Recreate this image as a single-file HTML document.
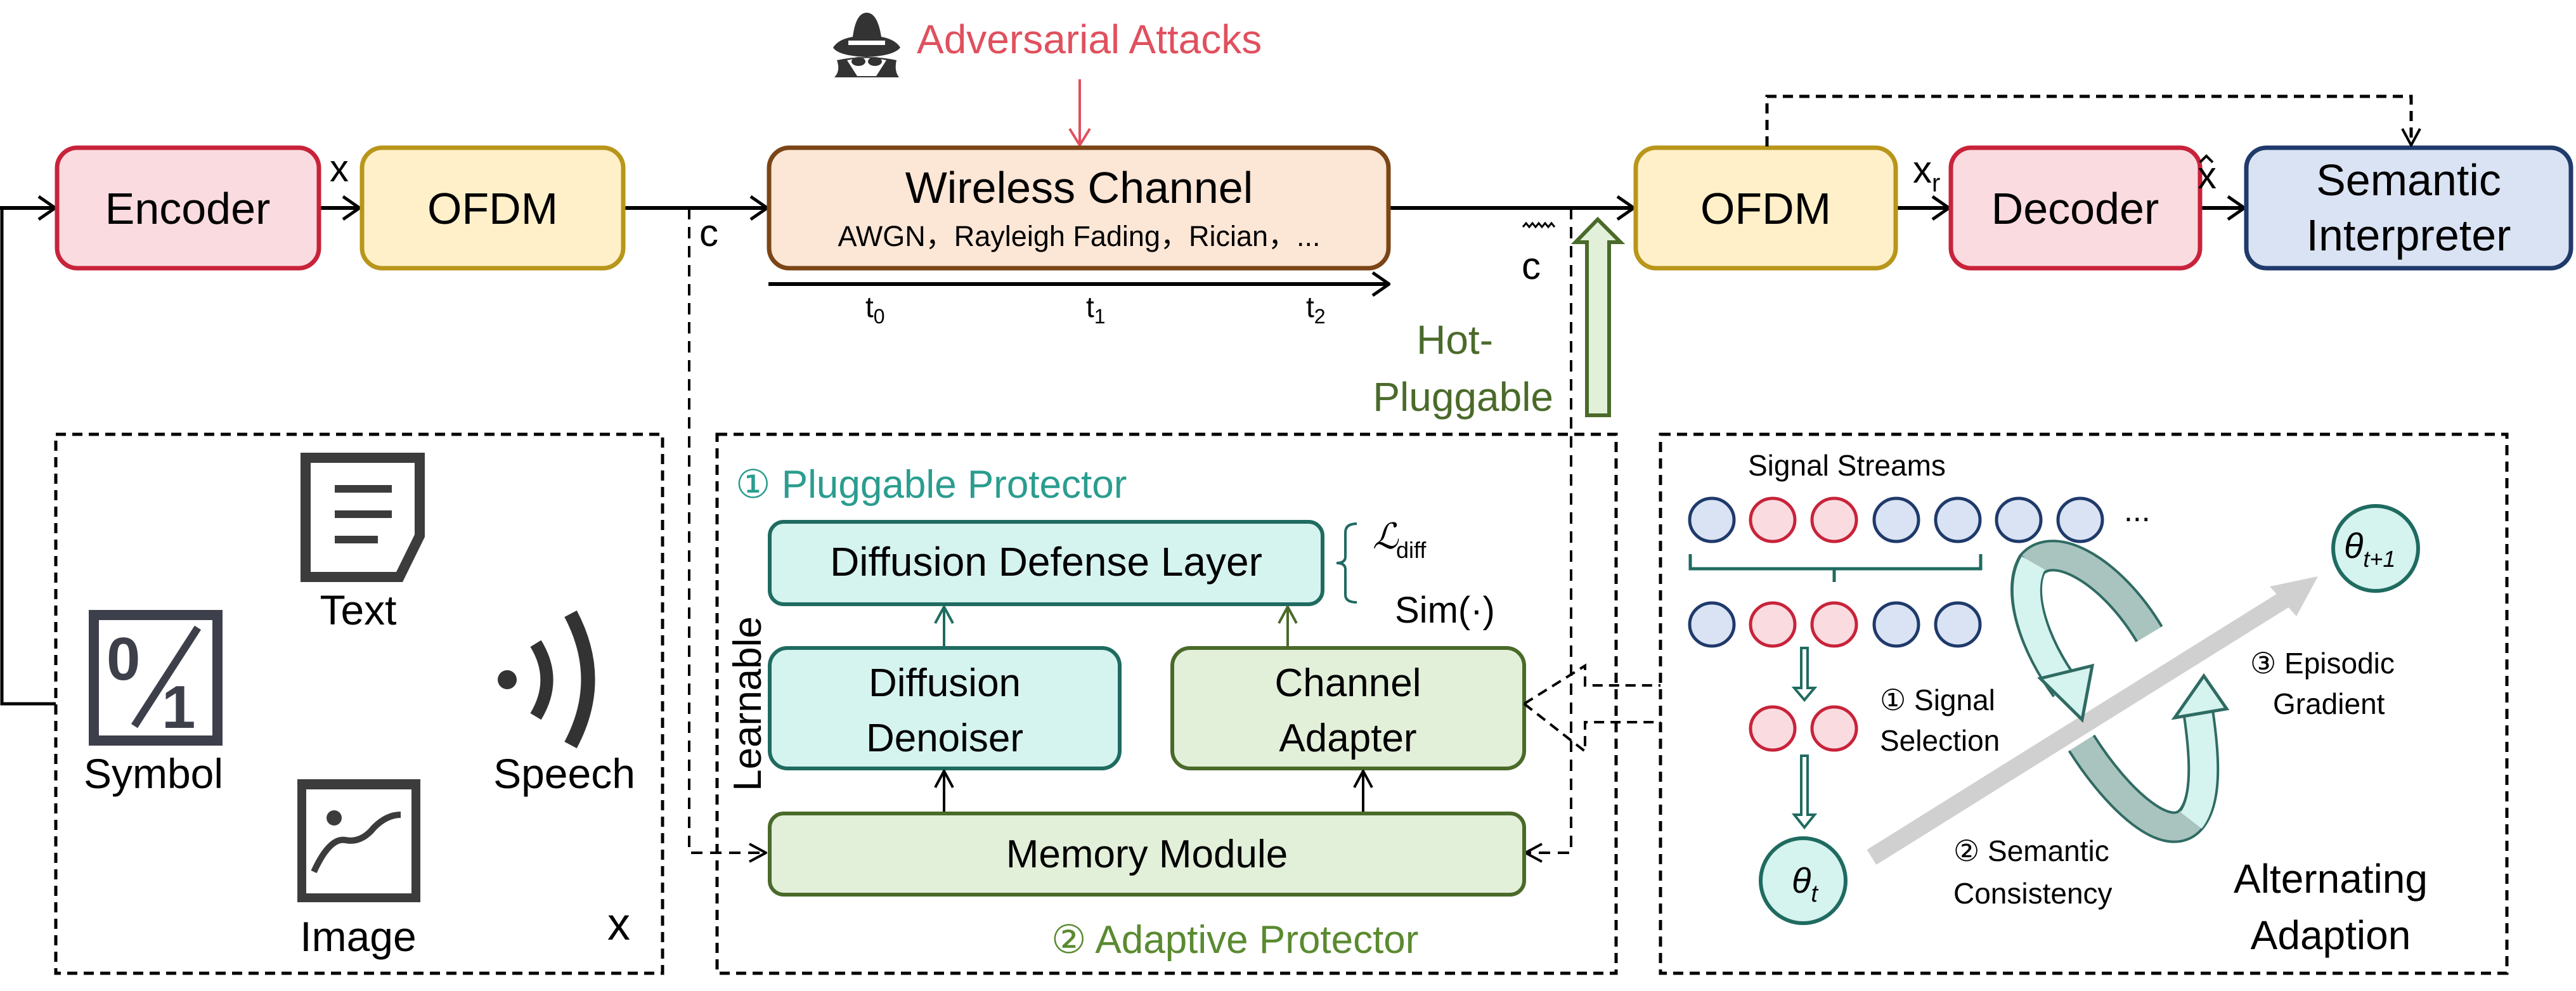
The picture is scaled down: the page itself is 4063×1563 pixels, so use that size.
<!DOCTYPE html>
<html><head><meta charset="utf-8"><style>
html,body{margin:0;padding:0;background:#fff;}
svg{display:block;font-family:"Liberation Sans",Arial,sans-serif;}
</style></head><body>
<svg width="4063" height="1563" viewBox="0 0 4063 1563" xmlns="http://www.w3.org/2000/svg">
<defs>
<marker id="obig" viewBox="0 0 30 40" refX="28" refY="20" markerWidth="30" markerHeight="40" markerUnits="userSpaceOnUse" orient="auto"><path d="M2 2 L28 20 L2 38" fill="none" stroke="#000" stroke-width="5"/></marker>
<marker id="or" viewBox="0 0 30 40" refX="28" refY="20" markerWidth="30" markerHeight="40" markerUnits="userSpaceOnUse" orient="auto"><path d="M2 4 L28 20 L2 36" fill="none" stroke="#e0505e" stroke-width="4"/></marker>
<marker id="ot" viewBox="0 0 30 40" refX="28" refY="20" markerWidth="30" markerHeight="40" markerUnits="userSpaceOnUse" orient="auto"><path d="M2 6 L28 20 L2 34" fill="none" stroke="#1f6b60" stroke-width="4"/></marker>
<marker id="og" viewBox="0 0 30 40" refX="28" refY="20" markerWidth="30" markerHeight="40" markerUnits="userSpaceOnUse" orient="auto"><path d="M2 6 L28 20 L2 34" fill="none" stroke="#4a6a2a" stroke-width="4"/></marker>
<marker id="ok" viewBox="0 0 30 40" refX="28" refY="20" markerWidth="30" markerHeight="40" markerUnits="userSpaceOnUse" orient="auto"><path d="M2 6 L28 20 L2 34" fill="none" stroke="#000" stroke-width="4"/></marker>
</defs>

<g fill="#333">
<path d="M1345 58 Q1350 20 1367 20 Q1384 20 1390 58 Q1412 62 1420 75 Q1410 88 1367 90 Q1322 88 1314 75 Q1322 62 1345 58Z"/>
<path d="M1320 95 Q1367 85 1414 95 Q1410 112 1418 122 L1316 122 Q1326 112 1320 95Z"/>
</g>
<rect x="1338" y="64" width="58" height="7" fill="#fff"/>
<path d="M1336 95 Q1367 88 1398 95 L1382 120 L1352 120Z" fill="#fff"/>
<ellipse cx="1354" cy="97" rx="11" ry="7" fill="#333"/><ellipse cx="1380" cy="97" rx="11" ry="7" fill="#333"/>
<text x="1446" y="84" font-size="64" fill="#e0505e">Adversarial Attacks</text>
<line x1="1703" y1="125" x2="1703" y2="229" stroke="#e0505e" stroke-width="4" marker-end="url(#or)"/>

<line x1="0" y1="328" x2="87" y2="328" stroke="#000" stroke-width="6" marker-end="url(#obig)"/>
<line x1="505" y1="328" x2="567" y2="328" stroke="#000" stroke-width="6" marker-end="url(#obig)"/>
<line x1="984" y1="328" x2="1210" y2="328" stroke="#000" stroke-width="6" marker-end="url(#obig)"/>
<line x1="2191" y1="328" x2="2577" y2="328" stroke="#000" stroke-width="6" marker-end="url(#obig)"/>
<line x1="2992" y1="328" x2="3074" y2="328" stroke="#000" stroke-width="6" marker-end="url(#obig)"/>
<line x1="3471" y1="328" x2="3540" y2="328" stroke="#000" stroke-width="6" marker-end="url(#obig)"/>
<polyline points="3,328 3,1110 88,1110" fill="none" stroke="#000" stroke-width="5"/>

<rect x="90" y="233" width="413" height="190" rx="32" fill="#f9dbe0" stroke="#c8233a" stroke-width="7"/>
<text x="296" y="353" font-size="70" text-anchor="middle">Encoder</text>
<rect x="571" y="233" width="412" height="190" rx="32" fill="#fff0c9" stroke="#b8961a" stroke-width="7"/>
<text x="777" y="353" font-size="70" text-anchor="middle">OFDM</text>
<rect x="1213" y="233" width="977" height="190" rx="32" fill="#fce6d6" stroke="#7b4516" stroke-width="7"/>
<text x="1702" y="320" font-size="70" text-anchor="middle">Wireless Channel</text>
<text x="1702" y="388" font-size="45" text-anchor="middle">AWGN，Rayleigh Fading，Rician，...</text>
<rect x="2580" y="233" width="410" height="190" rx="32" fill="#fff0c9" stroke="#b8961a" stroke-width="7"/>
<text x="2785" y="353" font-size="70" text-anchor="middle">OFDM</text>
<rect x="3077" y="233" width="393" height="190" rx="32" fill="#f9dbe0" stroke="#c8233a" stroke-width="7"/>
<text x="3273" y="353" font-size="70" text-anchor="middle">Decoder</text>
<rect x="3543" y="233" width="512" height="190" rx="32" fill="#dae3f3" stroke="#1f3a6b" stroke-width="7"/>
<text x="3799" y="308" font-size="70" text-anchor="middle">Semantic</text>
<text x="3799" y="395" font-size="70" text-anchor="middle">Interpreter</text>

<text x="520" y="286" font-size="60">x</text>
<text x="3017" y="288" font-size="60">x<tspan font-size="40" dy="14">r</tspan></text>
<text x="3466" y="297" font-size="60">x</text>
<path d="M3470 256 L3480 246 L3490 256" fill="none" stroke="#000" stroke-width="4"/>

<line x1="1212" y1="448" x2="2191" y2="448" stroke="#000" stroke-width="6" marker-end="url(#obig)"/>
<text x="1365" y="500" font-size="46">t<tspan font-size="32" dy="10">0</tspan></text>
<text x="1713" y="500" font-size="46">t<tspan font-size="32" dy="10">1</tspan></text>
<text x="2060" y="500" font-size="46">t<tspan font-size="32" dy="10">2</tspan></text>

<polyline points="1087,328 1087,1345 1208,1345" fill="none" stroke="#000" stroke-width="4" stroke-dasharray="18,12" marker-end="url(#ok)"/>
<text x="1103" y="388" font-size="60">c</text>
<polyline points="2478,328 2478,1345 2406,1345" fill="none" stroke="#000" stroke-width="4" stroke-dasharray="18,12" marker-end="url(#ok)"/>
<text x="2400" y="440" font-size="60">c</text>
<path d="M2402 358 l5 -6 l5 6 l5 -6 l5 6 l5 -6 l5 6 l5 -6 l5 6 l5 -6 l5 6" fill="none" stroke="#000" stroke-width="3"/>
<polyline points="2787,231 2787,152 3803,152 3803,229" fill="none" stroke="#000" stroke-width="5" stroke-dasharray="16,10" marker-end="url(#ok)"/>

<path d="M2503 655 L2503 382 L2485 382 L2520 346 L2556 382 L2538 382 L2538 655Z" fill="#e2f0d9" stroke="#4a6a2a" stroke-width="6"/>
<text x="2355" y="558" font-size="64" fill="#4a6a2a" text-anchor="end">Hot-</text>
<text x="2450" y="648" font-size="64" fill="#4a6a2a" text-anchor="end">Pluggable</text>

<rect x="88" y="685" width="957" height="850" fill="none" stroke="#000" stroke-width="5" stroke-dasharray="16,10"/>
<rect x="1131" y="685" width="1418" height="850" fill="none" stroke="#000" stroke-width="5" stroke-dasharray="16,10"/>
<rect x="2619" y="685" width="1335" height="850" fill="none" stroke="#000" stroke-width="5" stroke-dasharray="16,10"/>

<path d="M482 722 L662 722 L662 845 L630 910 L482 910Z" fill="none" stroke="#3c3c3c" stroke-width="16"/>
<rect x="482" y="716" width="180" height="14" fill="#3c3c3c"/>
<rect x="528" y="765" width="90" height="12" fill="#3c3c3c"/>
<rect x="528" y="805" width="90" height="12" fill="#3c3c3c"/>
<rect x="528" y="845" width="68" height="12" fill="#3c3c3c"/>
<text x="565" y="985" font-size="66" text-anchor="middle">Text</text>

<rect x="148" y="970" width="195" height="198" fill="none" stroke="#3d3f4b" stroke-width="16"/>
<rect x="142" y="964" width="207" height="14" fill="#3d3f4b"/>
<text x="168" y="1072" font-size="96" fill="#3d3f4b" font-weight="bold">0</text>
<text x="255" y="1148" font-size="96" fill="#3d3f4b" font-weight="bold">1</text>
<line x1="312" y1="990" x2="212" y2="1145" stroke="#3d3f4b" stroke-width="12"/>
<text x="242" y="1243" font-size="66" text-anchor="middle">Symbol</text>

<circle cx="800" cy="1072" r="15" fill="#333"/>
<path d="M845 1015 Q880 1072 845 1130" fill="none" stroke="#333" stroke-width="20"/>
<path d="M900 968 Q955 1072 900 1175" fill="none" stroke="#333" stroke-width="22"/>
<text x="890" y="1243" font-size="66" text-anchor="middle">Speech</text>

<rect x="476" y="1236" width="180" height="180" fill="none" stroke="#3c3c3c" stroke-width="14"/>
<rect x="469" y="1229" width="194" height="16" fill="#3c3c3c"/>
<circle cx="527" cy="1290" r="12" fill="#3c3c3c"/>
<path d="M495 1375 Q520 1320 545 1325 Q570 1330 590 1305 Q610 1285 632 1285" fill="none" stroke="#3c3c3c" stroke-width="10"/>
<text x="565" y="1500" font-size="66" text-anchor="middle">Image</text>
<text x="958" y="1482" font-size="72">x</text>

<text x="1160" y="785" font-size="62" fill="#2a9d8f">① Pluggable Protector</text>
<rect x="1214" y="823" width="872" height="130" rx="22" fill="#d5f3ef" stroke="#1f6b60" stroke-width="6"/>
<text x="1650" y="908" font-size="64" text-anchor="middle">Diffusion Defense Layer</text>
<path d="M2140 826 Q2122 826 2122 840 L2122 878 Q2122 888 2108 888 Q2122 888 2122 898 L2122 938 Q2122 950 2140 950" fill="none" stroke="#1f6b60" stroke-width="4"/>
<text x="2165" y="865" font-size="56" font-style="italic" font-family="Liberation Serif,serif">ℒ</text>
<text x="2202" y="880" font-size="36">diff</text>
<text x="2200" y="982" font-size="58">Sim(·)</text>

<rect x="1214" y="1022" width="552" height="190" rx="28" fill="#d5f3ef" stroke="#1f6b60" stroke-width="6"/>
<text x="1490" y="1098" font-size="62" text-anchor="middle">Diffusion</text>
<text x="1490" y="1185" font-size="62" text-anchor="middle">Denoiser</text>
<rect x="1849" y="1022" width="555" height="190" rx="28" fill="#e2efd9" stroke="#4a6a2a" stroke-width="6"/>
<text x="2126" y="1098" font-size="62" text-anchor="middle">Channel</text>
<text x="2126" y="1185" font-size="62" text-anchor="middle">Adapter</text>
<rect x="1214" y="1283" width="1190" height="128" rx="22" fill="#e2efd9" stroke="#4a6a2a" stroke-width="6"/>
<text x="1809" y="1368" font-size="62" text-anchor="middle">Memory Module</text>

<line x1="1489" y1="1019" x2="1489" y2="957" stroke="#1f6b60" stroke-width="4" marker-end="url(#ot)"/>
<line x1="2031" y1="1019" x2="2031" y2="957" stroke="#4a6a2a" stroke-width="4" marker-end="url(#og)"/>
<line x1="1489" y1="1280" x2="1489" y2="1216" stroke="#000" stroke-width="4" marker-end="url(#ok)"/>
<line x1="2150" y1="1280" x2="2150" y2="1216" stroke="#000" stroke-width="4" marker-end="url(#ok)"/>
<text transform="translate(1200,1110) rotate(-90)" font-size="62" text-anchor="middle">Learnable</text>
<text x="1658" y="1503" font-size="62" fill="#5a8a30">② Adaptive Protector</text>

<polyline points="2404,1110 2500,1050 2500,1081 2619,1081" fill="none" stroke="#000" stroke-width="4" stroke-dasharray="16,10"/>
<polyline points="2404,1110 2500,1185 2500,1139 2619,1139" fill="none" stroke="#000" stroke-width="4" stroke-dasharray="16,10"/>

<text x="2757" y="750" font-size="46">Signal Streams</text>
<g stroke-width="5">
<ellipse cx="2700" cy="820" rx="35" ry="34" fill="#dae3f3" stroke="#1f3a6b"/>
<ellipse cx="2796" cy="820" rx="35" ry="34" fill="#f9dbe0" stroke="#c8233a"/>
<ellipse cx="2893" cy="820" rx="35" ry="34" fill="#f9dbe0" stroke="#c8233a"/>
<ellipse cx="2991" cy="820" rx="35" ry="34" fill="#dae3f3" stroke="#1f3a6b"/>
<ellipse cx="3088" cy="820" rx="35" ry="34" fill="#dae3f3" stroke="#1f3a6b"/>
<ellipse cx="3184" cy="820" rx="35" ry="34" fill="#dae3f3" stroke="#1f3a6b"/>
<ellipse cx="3281" cy="820" rx="35" ry="34" fill="#dae3f3" stroke="#1f3a6b"/>
<ellipse cx="2700" cy="985" rx="35" ry="34" fill="#dae3f3" stroke="#1f3a6b"/>
<ellipse cx="2796" cy="985" rx="35" ry="34" fill="#f9dbe0" stroke="#c8233a"/>
<ellipse cx="2893" cy="985" rx="35" ry="34" fill="#f9dbe0" stroke="#c8233a"/>
<ellipse cx="2991" cy="985" rx="35" ry="34" fill="#dae3f3" stroke="#1f3a6b"/>
<ellipse cx="3088" cy="985" rx="35" ry="34" fill="#dae3f3" stroke="#1f3a6b"/>
<ellipse cx="2796" cy="1149" rx="35" ry="34" fill="#f9dbe0" stroke="#c8233a"/>
<ellipse cx="2893" cy="1149" rx="35" ry="34" fill="#f9dbe0" stroke="#c8233a"/>
</g>
<text x="3350" y="822" font-size="50">...</text>
<path d="M2666 874 L2666 897 L2893 897 L2893 918 M2893 897 L3124 897 L3124 874" fill="none" stroke="#1f6b60" stroke-width="5"/>
<path d="M2841 1022 L2851 1022 L2851 1085 L2862 1085 L2846 1104 L2830 1085 L2841 1085Z" fill="#fff" stroke="#1f6b60" stroke-width="4"/>
<path d="M2841 1192 L2851 1192 L2851 1285 L2862 1285 L2846 1305 L2830 1285 L2841 1285Z" fill="#fff" stroke="#1f6b60" stroke-width="4"/>

<line x1="2952" y1="1352" x2="3620" y2="935" stroke="#d0d0d0" stroke-width="28"/>
<polygon points="3656,909 3580,925 3622,972" fill="#d0d0d0"/>

<path d="M3390 1000 C3330 900 3240 850 3205 890 C3180 935 3210 1020 3258 1085" fill="none" stroke="#2f6b63" stroke-width="50"/>
<path d="M3390 1000 C3330 900 3240 850 3205 890" fill="none" stroke="#a9c4bf" stroke-width="42"/>
<path d="M3207 888 C3180 935 3210 1020 3258 1085" fill="none" stroke="#d5f3ef" stroke-width="42"/>
<polygon points="3218,1070 3300,1050 3284,1135" fill="#d5f3ef" stroke="#2f6b63" stroke-width="5"/>
<path d="M3283 1172 C3340 1262 3420 1335 3456 1292 C3484 1258 3476 1180 3466 1115" fill="none" stroke="#2f6b63" stroke-width="50"/>
<path d="M3283 1172 C3340 1262 3420 1335 3456 1292" fill="none" stroke="#a9c4bf" stroke-width="42"/>
<path d="M3456 1294 C3484 1258 3476 1180 3466 1115" fill="none" stroke="#d5f3ef" stroke-width="42"/>
<polygon points="3430,1132 3512,1118 3476,1066" fill="#d5f3ef" stroke="#2f6b63" stroke-width="5"/>

<ellipse cx="2844" cy="1389" rx="67" ry="67" fill="#d5f3ef" stroke="#1f6b60" stroke-width="6"/>
<text x="2826" y="1408" font-size="56" font-style="italic">θ<tspan font-size="38" dy="14">t</tspan></text>
<ellipse cx="3747" cy="865" rx="67" ry="67" fill="#d5f3ef" stroke="#1f6b60" stroke-width="6"/>
<text x="3697" y="880" font-size="56" font-style="italic">θ<tspan font-size="36" dy="14">t+1</tspan></text>

<text x="2965" y="1120" font-size="46">① Signal</text>
<text x="2965" y="1184" font-size="46">Selection</text>
<text x="3081" y="1358" font-size="46">② Semantic</text>
<text x="3081" y="1425" font-size="46">Consistency</text>
<text x="3549" y="1062" font-size="46">③ Episodic</text>
<text x="3585" y="1126" font-size="46">Gradient</text>
<text x="3676" y="1408" font-size="64" text-anchor="middle">Alternating</text>
<text x="3676" y="1497" font-size="64" text-anchor="middle">Adaption</text>
</svg>
</body></html>
